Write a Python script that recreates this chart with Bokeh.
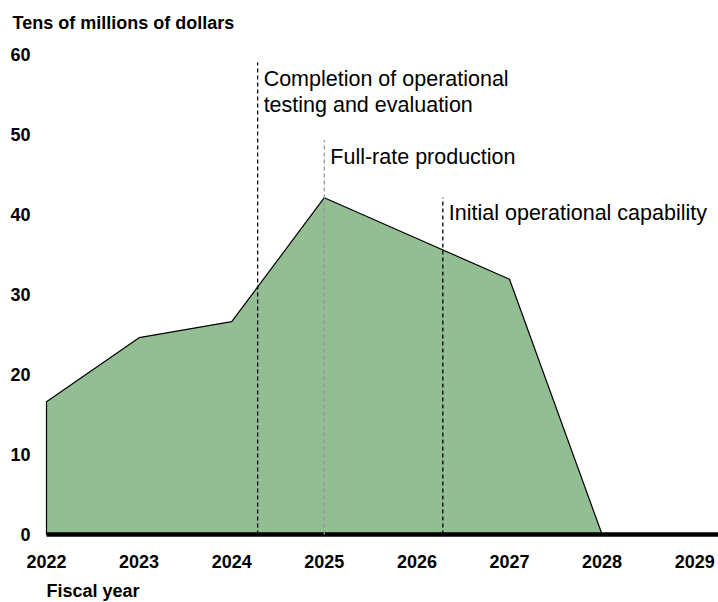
from bokeh.plotting import figure
from bokeh.models import Range1d, FixedTicker
from bokeh.core.properties import value
from bokeh.embed import file_html
from bokeh.resources import INLINE

# ---- data ----
years = [2022, 2023, 2024, 2025, 2026, 2027, 2028, 2029]
funding = [16.6, 24.6, 26.6, 42.1, 37.0, 31.9, 0.0, 0.0]
y_ticks = [0, 10, 20, 30, 40, 50, 60]

milestone_x = [2024.28, 2025.0, 2026.28]
milestone_top = [59.0, 49.3, 42.1]
milestone_color = ["#000000", "#999999", "#000000"]

label_x = [2024.28, 2024.28, 2025.0, 2026.28]
label_y = [56.9, 53.75, 47.25, 40.25]
label_text = ["Completion of operational", "testing and evaluation",
              "Full-rate production", "Initial operational capability"]

y_title = "Tens of millions of dollars"
x_title = "Fiscal year"

FONT = "Liberation Sans"
GREEN = "#93bd93"

# plot area spans the whole canvas; axes are pinned at fixed data positions
x_start, x_end = 2021.5032, 2029.257
y_start, y_end = -8.5, 66.75
x_axis_at = -1.0          # y position of x-axis line
y_axis_at = years[0]      # x position of y-axis line

p = figure(width=718, height=602, output_backend="svg", toolbar_location=None,
           x_range=Range1d(x_start, x_end), y_range=Range1d(y_start, y_end),
           min_border_left=0, min_border_right=0, min_border_top=0,
           min_border_bottom=0)
p.outline_line_color = None
p.background_fill_color = None
p.border_fill_color = None
p.grid.visible = False

# area
p.patch(x=[years[0]] + years + [years[-1]], y=[0] + funding + [0],
        fill_color=GREEN, line_color="black", line_width=1.2)

# baseline
p.segment(x0=[years[0]], y0=[0], x1=[x_end], y1=[0],
          line_color="black", line_width=4.5)

# milestone lines
p.segment(x0=milestone_x, y0=[0] * 3, x1=milestone_x, y1=milestone_top,
          line_color=milestone_color, line_width=1.3, line_dash="4 3")

# milestone labels
p.text(x=label_x, y=label_y, text=label_text, x_offset=6,
       text_font=value(FONT), text_font_size="21.5px", text_color="black",
       text_baseline="alphabetic", text_align="left")

# axes
xa = p.xaxis[0]
xa.fixed_location = x_axis_at
xa.ticker = FixedTicker(ticks=years)
xa.axis_line_color = None
xa.major_tick_line_color = None
xa.minor_tick_line_color = None
xa.major_tick_out = 0
xa.major_tick_in = 0
xa.major_label_standoff = 12
xa.major_label_text_font = FONT
xa.major_label_text_font_size = "18px"
xa.major_label_text_font_style = "bold"
xa.major_label_text_color = "black"

ya = p.yaxis[0]
ya.fixed_location = y_axis_at
ya.ticker = FixedTicker(ticks=y_ticks)
ya.axis_line_color = None
ya.major_tick_line_color = None
ya.minor_tick_line_color = None
ya.major_tick_out = 0
ya.major_tick_in = 0
ya.major_label_standoff = 16
ya.major_label_text_font = FONT
ya.major_label_text_font_size = "18px"
ya.major_label_text_font_style = "bold"
ya.major_label_text_color = "black"

# axis titles
p.text(x=[years[0]], y=[64.0], text=[y_title], x_offset=-34,
       text_font=value(FONT), text_font_size="18px", text_font_style="bold",
       text_color="black", text_baseline="middle", text_align="left")
p.text(x=[years[0]], y=[-7.1], text=[x_title],
       text_font=value(FONT), text_font_size="18px", text_font_style="bold",
       text_color="black", text_baseline="middle", text_align="left")

open("out.html", "w").write(file_html(p, INLINE))
